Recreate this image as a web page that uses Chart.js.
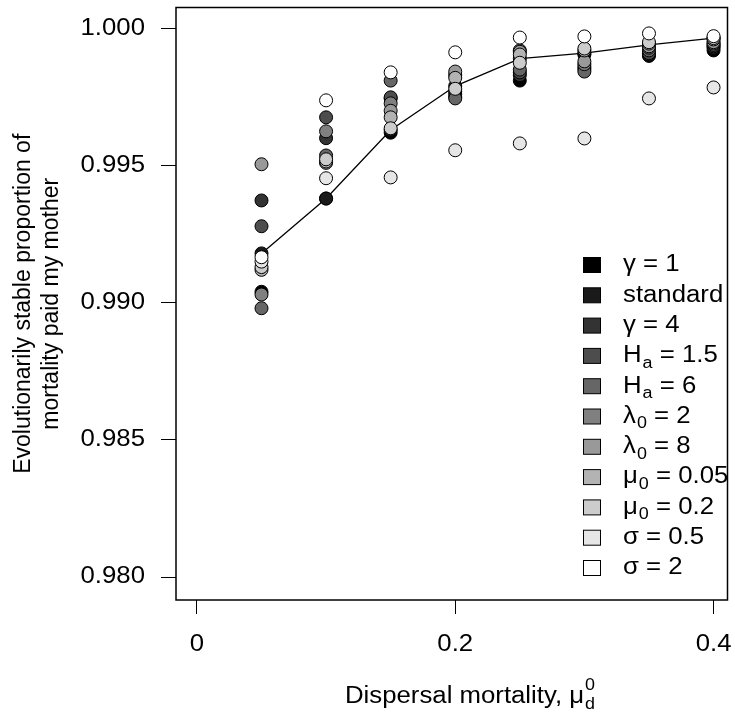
<!DOCTYPE html>
<html>
<head>
<meta charset="utf-8">
<script src="https://cdn.jsdelivr.net/npm/chart.js@4"></script>
<style>
  body { margin: 0; background: #fff; }
  canvas { display: block; }
</style>
</head>
<body>
<canvas id="chart" width="735" height="720"></canvas>
<script>
// dispersal mortality values (x)
const xVals = [0.05, 0.1, 0.15, 0.2, 0.25, 0.3, 0.35, 0.4];

// one array per parameter set
const gamma1   = [0.9904, 0.9938, 0.9962, 0.9977, 0.9981, 0.99905, 0.9990, 0.9992];
const standard = [0.9918, 0.9938, 0.9963, 0.9979, 0.9989, 0.9991, 0.9994, 0.99965];
const gamma4   = [0.99373, 0.9960, 0.99745, 0.9976, 0.9983, 0.9986, 0.99905, 0.9993];
const ha15     = [0.99279, 0.99676, 0.99749, 0.9975, 0.9984, 0.99852, 0.9991, 0.99935];
const ha6      = [0.9898, 0.99537, 0.9981, 0.99745, 0.9985, 0.99843, 0.9992, 0.9994];
const lam2     = [0.9903, 0.99625, 0.99727, 0.9983, 0.9992, 0.9987, 0.9993, 0.99945];
const lam8     = [0.99505, 0.9951, 0.9970, 0.99843, 0.99915, 0.9988, 0.99935, 0.9995];
const mu005    = [0.9912, 0.99515, 0.99676, 0.9982, 0.99905, 0.9992, 0.99945, 0.9996];
const mu02     = [0.9913, 0.99523, 0.99636, 0.9978, 0.99875, 0.99927, 0.9995, 0.99965];
const sig05    = [0.9915, 0.99454, 0.99457, 0.99556, 0.99581, 0.99599, 0.99745, 0.99785];
const sig2     = [0.99166, 0.99738, 0.9984, 0.99913, 0.99967, 0.99971, 0.99982, 0.99972];

const seriesNames = ['γ = 1', 'standard', 'γ = 4', 'Ha = 1.5', 'Ha = 6', 'λ0 = 2', 'λ0 = 8',
                     'μ0 = 0.05', 'μ0 = 0.2', 'σ = 0.5', 'σ = 2'];
// legend text split into [symbol, subscript, rest]
const legendParts = [
  ['γ', '', ' = 1'], ['standard', '', ''], ['γ', '', ' = 4'], ['H', 'a', ' = 1.5'], ['H', 'a', ' = 6'],
  ['λ', '0', ' = 2'], ['λ', '0', ' = 8'], ['μ', '0', ' = 0.05'], ['μ', '0', ' = 0.2'],
  ['σ', '', ' = 0.5'], ['σ', '', ' = 2']
];
const allSeries = [gamma1, standard, gamma4, ha15, ha6, lam2, lam8, mu005, mu02, sig05, sig2];
const greys = ['#000000', '#1a1a1a', '#333333', '#4d4d4d', '#666666', '#808080',
               '#999999', '#b3b3b3', '#cccccc', '#e6e6e6', '#ffffff'];

const xTicks = [0, 0.2, 0.4];
const xTickLabels = ['0', '0.2', '0.4'];
const yTicks = [0.980, 0.985, 0.990, 0.995, 1.000];
const yTickLabels = ['0.980', '0.985', '0.990', '0.995', '1.000'];

const FONT = '"Liberation Sans", Arial, Helvetica, sans-serif';
const FS = 23;       // base font size
const STRETCH = 1.12; // text in the reference is a bit wide

const datasets = allSeries.map((vals, i) => ({
  type: 'scatter',
  label: seriesNames[i],
  data: xVals.map((x, j) => ({ x: x, y: vals[j] })),
  backgroundColor: greys[i],
  borderColor: '#000',
  borderWidth: 1,
  pointRadius: 6.5,
  pointHoverRadius: 6.5,
  order: 11 - i
}));

// line through the standard case
datasets.push({
  type: 'line',
  label: 'standard line',
  data: xVals.map((x, j) => ({ x: x, y: standard[j] })),
  borderColor: '#000',
  borderWidth: 1.3,
  pointRadius: 0,
  fill: false,
  tension: 0,
  order: 20
});

// draw text stretched horizontally, anchored at (x, y)
function wideText(ctx, txt, x, y, size, align) {
  ctx.save();
  ctx.font = size + 'px ' + FONT;
  ctx.textAlign = align || 'left';
  ctx.translate(x, y);
  ctx.scale(STRETCH, 1);
  ctx.fillText(txt, 0, 0);
  const w = ctx.measureText(txt).width * STRETCH;
  ctx.restore();
  return w;
}

function drawSubText(ctx, x, y, parts, size) {
  x += wideText(ctx, parts[0], x, y, size);
  if (parts[1]) {
    x += wideText(ctx, parts[1], x + 1, y + size * 0.32, Math.round(size * 0.68)) + 1;
  }
  wideText(ctx, parts[2], x, y, size);
}

const extras = {
  id: 'extras',
  afterDraw(chart) {
    const ctx = chart.ctx;
    const a = chart.chartArea;
    ctx.save();
    // box
    ctx.strokeStyle = '#000';
    ctx.lineWidth = 1.5;
    ctx.strokeRect(a.left, a.top, a.right - a.left, a.bottom - a.top);

    ctx.fillStyle = '#000';
    ctx.textBaseline = 'middle';

    // tick labels
    const xs = chart.scales.x, ys = chart.scales.y;
    xTicks.forEach((v, i) => wideText(ctx, xTickLabels[i], xs.getPixelForValue(v), 645, FS, 'center'));
    yTicks.forEach((v, i) => wideText(ctx, yTickLabels[i], 145, ys.getPixelForValue(v), FS, 'right'));

    // legend
    const lx = 592, ly = 265, step = 30.3;
    legendParts.forEach((p, i) => {
      const y = ly + i * step;
      ctx.fillStyle = greys[i];
      ctx.fillRect(lx - 8.5, y - 7.5, 17, 15);
      ctx.strokeStyle = '#000';
      ctx.lineWidth = 1;
      ctx.strokeRect(lx - 8.5, y - 7.5, 17, 15);
      ctx.fillStyle = '#000';
      drawSubText(ctx, 623, y, p, FS);
    });

    // y title
    ctx.save();
    ctx.translate(0, (a.top + a.bottom) / 2);
    ctx.rotate(-Math.PI / 2);
    ctx.scale(1, 1.05);
    ctx.textAlign = 'center';
    ctx.font = FS + 'px ' + FONT;
    ctx.fillText('Evolutionarily stable proportion of', 0, 23 / 1.05);
    ctx.fillText('mortality paid my mother', 0, 51 / 1.05);
    ctx.restore();

    // x title with mu_d^0
    const x0 = 345, yb = 697;
    const w = wideText(ctx, 'Dispersal mortality, μ', x0, yb, FS);
    wideText(ctx, 'd', x0 + w + 1, yb + 8, 16);
    wideText(ctx, '0', x0 + w + 1, yb - 11, 16);
    ctx.restore();
  }
};

new Chart(document.getElementById('chart'), {
  data: { datasets: datasets },
  options: {
    responsive: false,
    animation: false,
    devicePixelRatio: 1,
    layout: { padding: { left: 0, top: 7, right: 6, bottom: 0 } },
    plugins: {
      legend: { display: false },
      tooltip: { enabled: false }
    },
    scales: {
      x: {
        type: 'linear',
        min: -0.0162,
        max: 0.4108,
        afterBuildTicks: (scale) => { scale.ticks = xTicks.map(v => ({ value: v })); },
        afterFit: (scale) => {
          scale.height = 120;
          scale.paddingLeft = 0;
          scale.paddingRight = 0;
        },
        grid: { drawOnChartArea: false, drawTicks: true, tickLength: 14, color: '#000', lineWidth: 1 },
        border: { display: false },
        ticks: { display: false }
      },
      y: {
        type: 'linear',
        min: 0.979162,
        max: 1.000765,
        afterBuildTicks: (scale) => { scale.ticks = yTicks.map(v => ({ value: v })); },
        afterFit: (scale) => {
          scale.width = 176;
          scale.paddingTop = 0;
          scale.paddingBottom = 0;
        },
        grid: { drawOnChartArea: false, drawTicks: true, tickLength: 15, color: '#000', lineWidth: 1 },
        border: { display: false },
        ticks: { display: false }
      }
    }
  },
  plugins: [extras]
});
</script>
</body>
</html>
